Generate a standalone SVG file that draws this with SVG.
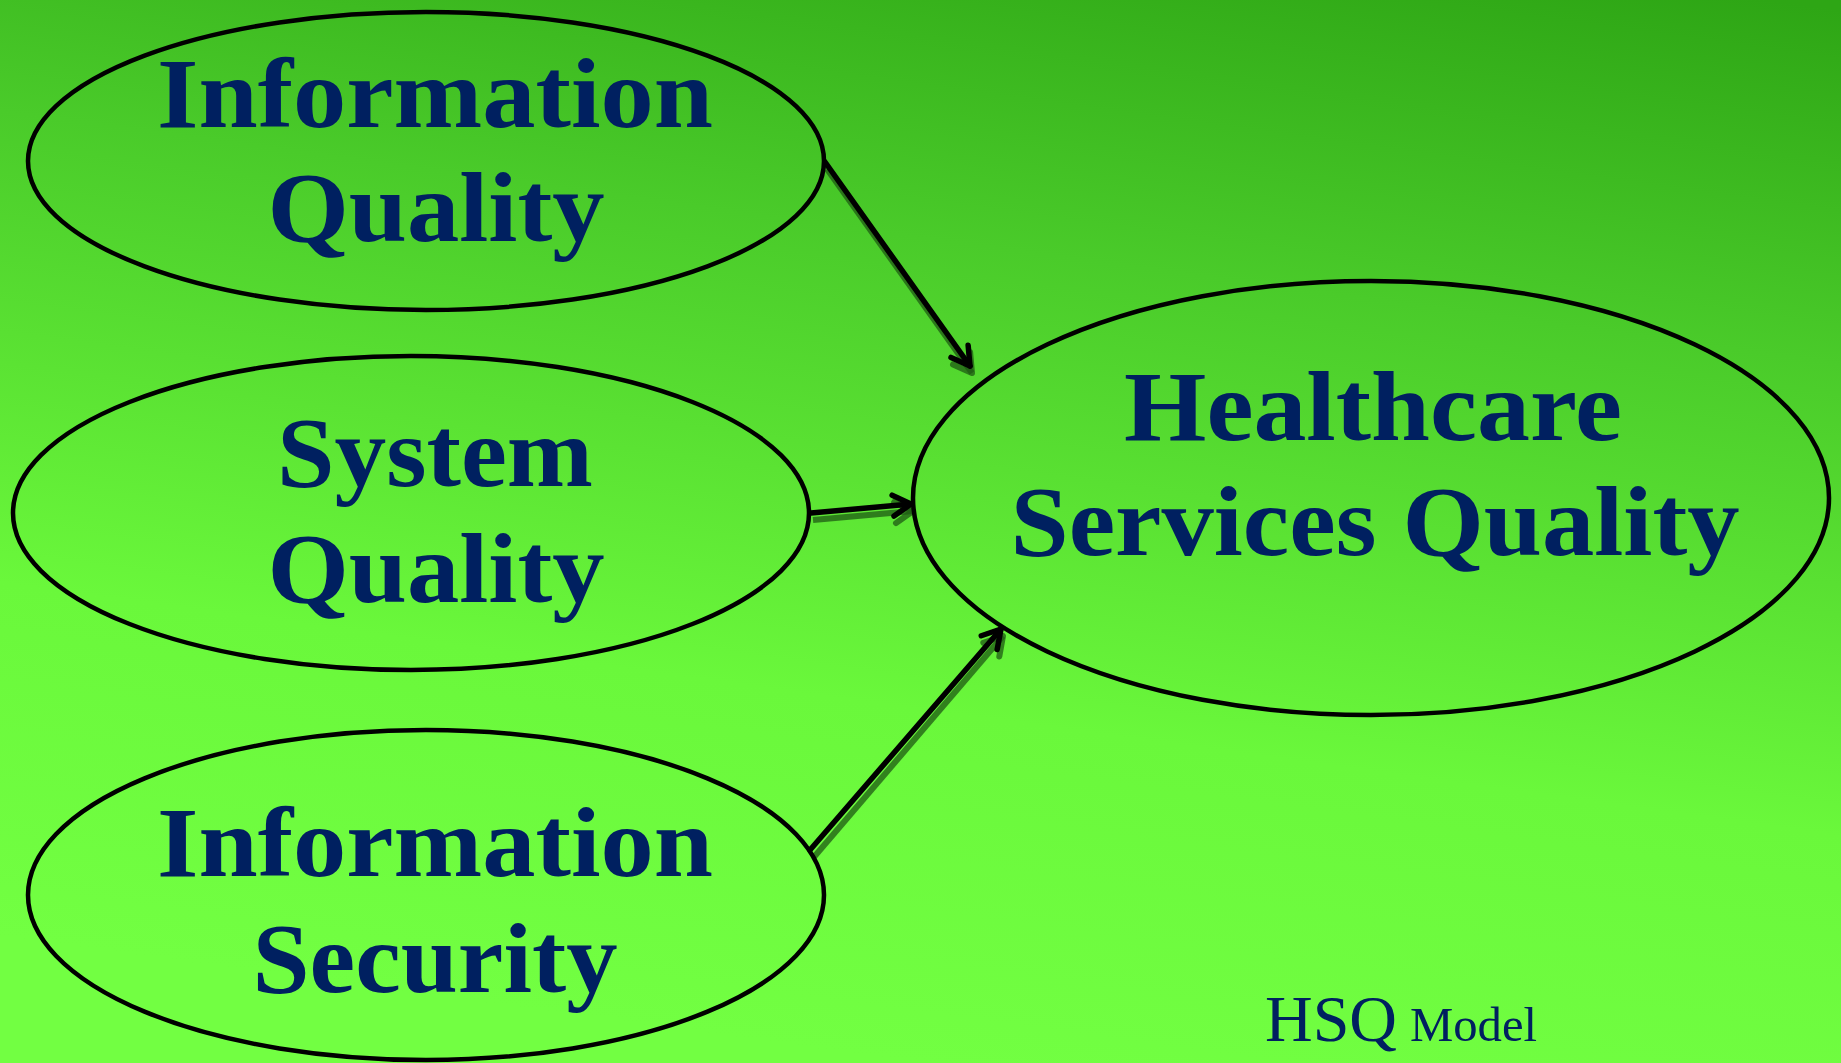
<svg xmlns="http://www.w3.org/2000/svg" width="1841" height="1063" viewBox="0 0 1841 1063">
  <defs>
    <linearGradient id="bg" x1="0.75" y1="-0.05" x2="0.5" y2="1">
      <stop offset="0" stop-color="#2ea615"/>
      <stop offset="0.3" stop-color="#4acb2a"/>
      <stop offset="0.7" stop-color="#6af83b"/>
      <stop offset="1" stop-color="#72ff42"/>
    </linearGradient>
    <marker id="head" markerUnits="userSpaceOnUse" viewBox="-25 -15 30 30" markerWidth="30" markerHeight="30" refX="0" refY="0" orient="auto" overflow="visible">
      <path d="M -18 -10.5 L 0 0 L -18 10.5" fill="none" stroke="#000" stroke-width="5.5" stroke-linecap="round" stroke-linejoin="round"/>
    </marker>
    <marker id="headShadow" markerUnits="userSpaceOnUse" viewBox="-25 -15 30 30" markerWidth="30" markerHeight="30" refX="0" refY="0" orient="auto" overflow="visible">
      <path d="M -18 -10.5 L 0 0 L -18 10.5" fill="none" stroke="#1f5a14" stroke-opacity="0.75" stroke-width="6" stroke-linecap="round" stroke-linejoin="round"/>
    </marker>
    <style>
      .node { fill: none; stroke: #000; stroke-width: 4.5; }
      .lbl { font-family: "Liberation Serif", "Times New Roman", serif; font-weight: bold; font-size: 100px; fill: #002060; text-anchor: middle; }
      .note { font-family: "Liberation Serif", "Times New Roman", serif; fill: #002060; }
      .edge { stroke: #000; stroke-width: 5.5; fill: none; stroke-linecap: round; marker-end: url(#head); }
      .shadow { stroke: #1f5a14; stroke-opacity: 0.75; stroke-width: 6; fill: none; stroke-linecap: butt; marker-end: url(#headShadow); }
    </style>
  </defs>
  <rect x="0" y="0" width="1841" height="1063" fill="url(#bg)"/>

  <g id="connectors">
    <g transform="translate(2,7)">
      <line class="shadow" x1="825" y1="162" x2="970" y2="366"/>
      <line class="shadow" x1="811" y1="513" x2="911" y2="504"/>
      <line class="shadow" x1="812" y1="850" x2="1001" y2="629"/>
    </g>
    <line class="edge" x1="825" y1="162" x2="970" y2="366"/>
    <line class="edge" x1="811" y1="513" x2="911" y2="504"/>
    <line class="edge" x1="810" y1="850" x2="1001" y2="629"/>
  </g>

  <g id="information-quality">
    <ellipse class="node" cx="426" cy="161" rx="398" ry="149"/>
    <text class="lbl" x="435" y="127" textLength="556" lengthAdjust="spacingAndGlyphs">Information</text>
    <text class="lbl" x="436" y="241" textLength="337" lengthAdjust="spacingAndGlyphs">Quality</text>
  </g>

  <g id="system-quality">
    <ellipse class="node" cx="411" cy="513" rx="398" ry="157"/>
    <text class="lbl" x="435" y="486" textLength="316" lengthAdjust="spacingAndGlyphs">System</text>
    <text class="lbl" x="436" y="602" textLength="337" lengthAdjust="spacingAndGlyphs">Quality</text>
  </g>

  <g id="information-security">
    <ellipse class="node" cx="426" cy="895" rx="398" ry="165"/>
    <text class="lbl" x="435" y="876" textLength="556" lengthAdjust="spacingAndGlyphs">Information</text>
    <text class="lbl" x="435" y="992" textLength="365" lengthAdjust="spacingAndGlyphs">Security</text>
  </g>

  <g id="healthcare-services-quality">
    <ellipse class="node" cx="1371" cy="498" rx="458" ry="217"/>
    <text class="lbl" x="1373" y="440" textLength="498" lengthAdjust="spacingAndGlyphs">Healthcare</text>
    <text class="lbl" x="1375" y="555" textLength="729" lengthAdjust="spacingAndGlyphs">Services Quality</text>
  </g>

  <g id="caption">
    <text class="note" x="1265" y="1041"><tspan font-size="66" textLength="132" lengthAdjust="spacingAndGlyphs">HSQ</tspan><tspan x="1410" font-size="48" textLength="127" lengthAdjust="spacingAndGlyphs">Model</tspan></text>
  </g>
</svg>
